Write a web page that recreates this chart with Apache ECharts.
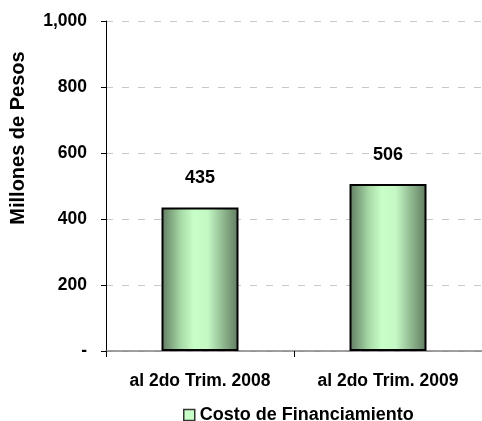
<!DOCTYPE html>
<html><head><meta charset="utf-8">
<script src="https://cdn.jsdelivr.net/npm/echarts@6/dist/echarts.min.js"></script>
<style>html,body{margin:0;padding:0;background:#fff}#c{width:482px;height:421px}</style>
</head><body><div id="c"></div>
<script>
const categories = ['al 2do Trim. 2008', 'al 2do Trim. 2009'];
const values = [435, 506];
const seriesName = 'Costo de Financiamiento';
const yTitle = 'Millones de Pesos';
const FONT = '"Liberation Sans Narrow", "Liberation Sans", Arial, sans-serif';
const grad = new echarts.graphic.LinearGradient(0, 0, 1, 0, [
  {offset: 0, color: '#5f7a5f'},
  {offset: 0.25, color: '#a6d9a6'},
  {offset: 0.42, color: '#c8ffc8'},
  {offset: 0.6, color: '#c4f8c4'},
  {offset: 0.8, color: '#90b890'},
  {offset: 1, color: '#5f7a5f'}
]);
const chart = echarts.init(document.getElementById('c'));
chart.setOption({
  animation: false,
  grid: {left: 106, right: 0, top: 21, bottom: 70, containLabel: false},
  graphic: [{
    type: 'text', x: 18, y: 138, rotation: Math.PI / 2,
    style: {text: yTitle, fontFamily: FONT, fontWeight: 'bold', fontSize: 20, fill: '#000',
      textAlign: 'center', textVerticalAlign: 'middle'}
  }],
  legend: {
    top: 401, left: 178, itemWidth: 11, itemHeight: 11, itemGap: 5,
    textStyle: {fontFamily: FONT, fontWeight: 'bold', fontSize: 18, color: '#000'},
    data: [{name: seriesName, icon: 'rect', itemStyle: {color: '#c8ffc8', borderColor: '#333', borderWidth: 1.5}}]
  },
  xAxis: {
    type: 'category', data: categories,
    axisLine: {lineStyle: {color: '#808080', width: 1.5}},
    axisTick: {show: true, length: 6, lineStyle: {color: '#000'}},
    axisLabel: {fontFamily: FONT, fontWeight: 'bold', fontSize: 17.5, color: '#000', margin: 21}
  },
  yAxis: {
    type: 'value', min: 0, max: 1000, interval: 200,
    axisLine: {show: true, lineStyle: {color: '#000', width: 1}},
    axisTick: {show: true, length: 5, lineStyle: {color: '#000'}},
    axisLabel: {fontFamily: FONT, fontWeight: 'bold', fontSize: 17.5, color: '#000', margin: 19,
      formatter: v => v === 0 ? '-' : v.toLocaleString('en-US')},
    splitLine: {lineStyle: {color: '#c8c8c8', type: [7, 9]}}
  },
  series: [{
    name: seriesName, type: 'bar', data: values, barWidth: 77,
    itemStyle: {color: grad, borderColor: '#000', borderWidth: 2},
    label: {show: true, position: 'top', distance: 20, fontFamily: FONT, fontWeight: 'bold', fontSize: 18, color: '#000'}
  }]
});
</script></body></html>
